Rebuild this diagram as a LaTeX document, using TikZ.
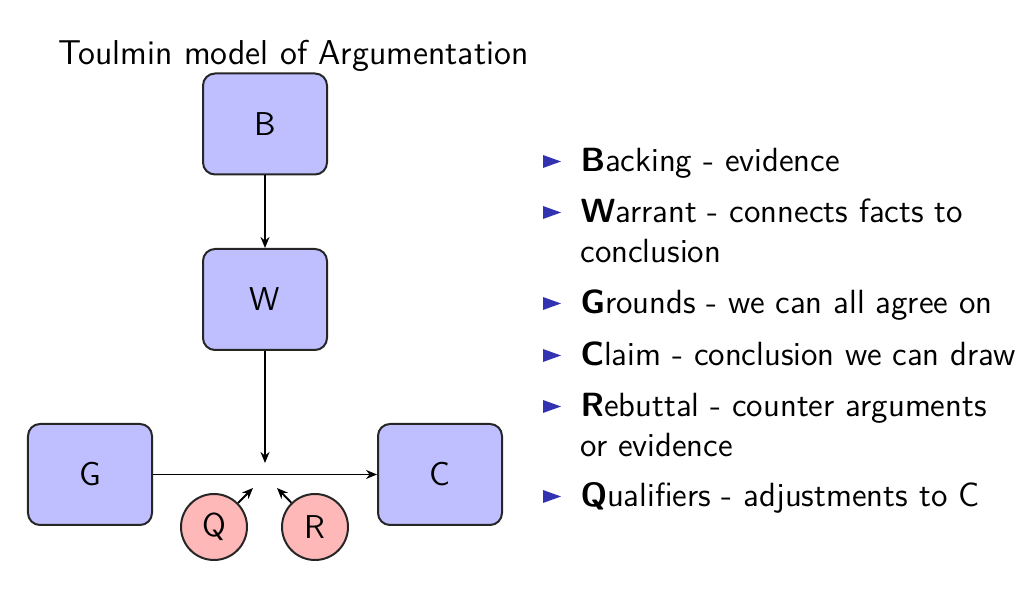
\documentclass[tikz,border=0pt]{standalone}
\usepackage{fontspec}
\usetikzlibrary{arrows.meta}
\definecolor{boxfill}{RGB}{191,191,255}
\definecolor{circfill}{RGB}{255,184,184}
\definecolor{bulletblue}{rgb}{0.2,0.2,0.7}
\tikzset{
  px/.style={x=0.4pt,y=-0.4pt},
  tbox/.style={draw=black!85, line width=0.8pt, fill=boxfill, rounded corners=4.8pt,
    minimum width=49.6pt, minimum height=40.4pt, inner sep=0pt,
    font=\sffamily\fontsize{13.2}{15}\selectfont},
  tcirc/.style={draw=black!85, line width=0.8pt, fill=circfill, circle,
    minimum size=26.4pt, inner sep=0pt, font=\sffamily\fontsize{13.2}{15}\selectfont},
  conn/.style={line width=0.75pt, -{Stealth[length=4.4pt,width=3.6pt]}},
  itemtext/.style={anchor=base west, inner sep=0pt, font=\sffamily\fontsize{13.42}{16}\selectfont},
}
\begin{document}
\begin{tikzpicture}[px]
\useasboundingbox (0,0) rectangle (1026,610);
% title
\node[anchor=base west, inner sep=0pt, font=\sffamily\fontsize{13.8}{16}\selectfont] (title) at (58,65) {Toulmin model of Argumentation};
% boxes
\node[tbox] (B) at (265,124) {B};
\node[tbox] (W) at (265,299.5) {W};
\node[tbox] (G) at (90,474.5) {G};
\node[tbox] (C) at (440,474.5) {C};
\node[tcirc] (Q) at (214,527) {Q};
\node[tcirc] (R) at (315,527) {R};
\coordinate (wend) at (265,463);
\coordinate (qend) at (253,488);
\coordinate (rend) at (277,488);
% connectors
\draw[conn] (B) -- (W);
\draw[conn] (W) -- (wend);
\draw[conn] (G) -- (C);
\draw[conn] (Q) -- (qend);
\draw[conn] (R) -- (rend);
% bullets
\foreach \yb in {172,223,314,366,417,507}{
  \fill[bulletblue] (543,\yb-17) -- (561,\yb-10.5) -- (543,\yb-4) -- cycle;
}
\node[itemtext] (i1) at (580,172) {\textbf{B}acking - evidence};
\node[itemtext] (i2) at (580,223) {\textbf{W}arrant - connects facts to};
\node[itemtext] (i2b) at (580,263) {conclusion};
\node[itemtext] (i3) at (580,314) {\textbf{G}rounds - we can all agree on};
\node[itemtext] (i4) at (580,366) {\textbf{C}laim - conclusion we can draw};
\node[itemtext] (i5) at (580,417) {\textbf{R}ebuttal - counter arguments};
\node[itemtext] (i5b) at (580,457) {or evidence};
\node[itemtext] (i6) at (580,507) {\textbf{Q}ualifiers - adjustments to C};
\end{tikzpicture}
\end{document}
